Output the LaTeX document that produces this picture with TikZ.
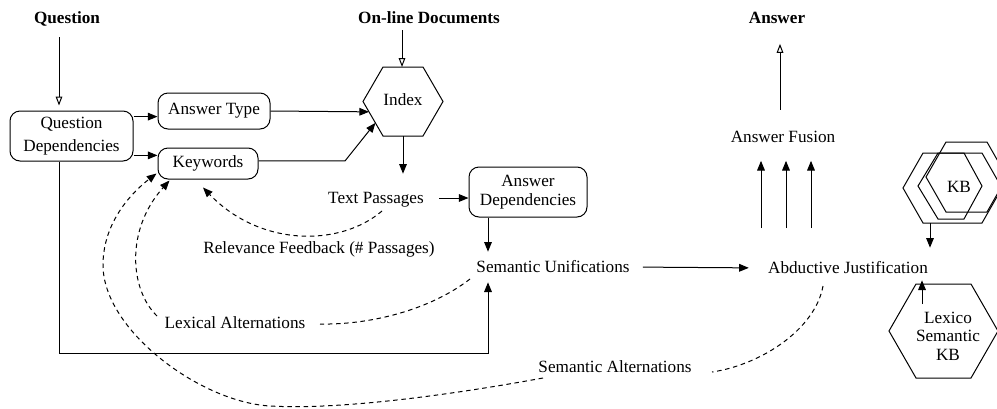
\documentclass[tikz,border=0pt]{standalone}
\usepackage{fontspec}
\setmainfont{Liberation Serif}
\usetikzlibrary{arrows.meta,calc}
\begin{document}
\begin{tikzpicture}[x=0.6pt,y=-0.6pt,
  every node/.style={font=\fontsize{10.3}{11}\selectfont},
  lbl/.style={inner sep=0pt,text height=7.5pt,text depth=1.5pt},
  title/.style={lbl,font=\fontsize{10.3}{11}\selectfont\bfseries},
  ln/.style={line width=0.6pt},
  rbox/.style={ln,draw,rounded corners=6pt,inner sep=0pt,align=center},
  arr/.style={ln,-{Triangle[length=5.8pt,width=4.6pt]}},
  oarr/.style={ln,-{Triangle[open,length=5.4pt,width=4pt]}},
  dsh/.style={ln,dash pattern=on 2.7pt off 2.2pt},
  hex/.style={ln,line join=miter}
]
\useasboundingbox (0,0) rectangle (997,408);

% titles
\node[title] (Q) at (67,18) {Question};
\node[title] (OD) at (429,18) {On-line Documents};
\node[title] (Ans) at (777,18) {Answer};

% boxes
\node[rbox,minimum width=73.8pt,minimum height=30pt] (QD) at (71.5,136) {Question\\[3pt]Dependencies};
\node[rbox,minimum width=67.2pt,minimum height=21.6pt] (AT) at (214,111) {Answer Type};
\node[rbox,minimum width=60pt,minimum height=18.6pt] (KW) at (208,163.5) {\raisebox{-2.5pt}{Keywords}};
\node[rbox,minimum width=70.8pt,minimum height=30pt] (AD) at (528,192) {Answer\\Dependencies};

% Index hexagon
\coordinate (ixL) at (363,101.5);
\coordinate (ixTL) at (383,67);
\coordinate (ixTR) at (423,67);
\coordinate (ixR) at (443,101.5);
\coordinate (ixBR) at (423,136);
\coordinate (ixBL) at (383,136);
\draw[hex] (ixL) -- (ixTL) -- (ixTR) -- (ixR) -- (ixBR) -- (ixBL) -- cycle;
\node[lbl] (IX) at (403,100) {Index};
\coordinate (ixB) at ($(ixBL)!0.5!(ixBR)$);
\coordinate (ixE1) at ($(ixL)!0.3!(ixBL)$);
\coordinate (ixE2) at ($(ixL)!0.62!(ixBL)$);

% KB stack
\draw[hex] (926,177) -- (946,142) -- (987,142) -- (1007,177) -- (987,212) -- (946,212) -- cycle;
\draw[hex] (903,188) -- (923,153) -- (982,153) -- (1002,188) -- (982,223) -- (923,223) -- cycle;
\draw[hex] (918,186) -- (938,153) -- (964,153) -- (982,186) -- (964,219) -- (938,219) -- cycle;
\node[lbl] (KB) at (959,187) {KB};

% Lexico semantic KB hexagon
\draw[hex] (889,331) -- (916,284) -- (971,284) -- (998,331) -- (971,378) -- (916,378) -- cycle;
\node[inner sep=0pt,align=center] (LX) at (948,336) {Lexico\\Semantic\\KB};

% plain labels
\node[lbl] (TP) at (376,198) {Text Passages};
\node[lbl] (RF) at (319,248) {Relevance Feedback (\# Passages)};
\node[lbl] (SU) at (553,267) {Semantic Unifications};
\node[lbl] (AJ) at (848,268) {Abductive Justification};
\node[lbl] (AF) at (783,137) {Answer Fusion};
\node[lbl] (LA) at (235,323) {Lexical Alternations};
\node[lbl] (SA) at (615,367) {Semantic Alternations};

% helper coordinates
\coordinate (qa) at (59,37);
\coordinate (oda) at (402,30);
\coordinate (qd1) at ($(QD.north east)!0.12!(QD.south east)$);
\coordinate (qd2) at ($(QD.north east)!0.88!(QD.south east)$);
\coordinate (kw1) at ($(KW.north east)!0.42!(KW.south east)$);
\coordinate (kwb) at (345,0);
\coordinate (adx) at (488,0);
\coordinate (lp) at (59,353);
\coordinate (f1) at (761,228);
\coordinate (f2) at (786,228);
\coordinate (f3) at (811,228);
\coordinate (ansx) at (780,0);
\coordinate (kbb) at (930,223);
\coordinate (lxa) at (922,304);

% solid connectors
\draw[oarr,shorten >=3pt] (qa) -- (qa |- QD.north);
\draw[oarr] (oda) -- (oda |- ixTL);
\draw[arr] (qd1) -- (qd1 -| AT.west);
\draw[arr] (qd2) -- (qd2 -| KW.west);
\draw[arr] (AT.east) -- (ixE1);
\draw[arr] (kw1) -- (kw1 -| kwb) -- (ixE2);
\draw[arr,shorten >=9.9pt] (ixB) -- (ixB |- TP.north);
\draw[arr,shorten <=9pt] (TP.east) -- (TP.east -| AD.west);
\draw[arr,shorten >=4.5pt] (AD.south -| adx) -- (adx |- SU.north);
\draw[arr,shorten >=4.5pt] (QD.south -| lp) -- (lp) -| (adx |- SU.south);
\draw[arr,shorten <=7.8pt,shorten >=11.4pt] (SU.east) -- (AJ.west);
\draw[arr,shorten >=9.6pt] (f1) -- (f1 |- AF.south);
\draw[arr,shorten >=9.6pt] (f2) -- (f2 |- AF.south);
\draw[arr,shorten >=9.6pt] (f3) -- (f3 |- AF.south);
\draw[oarr,shorten <=11.7pt,shorten >=10.8pt] (AF.north -| ansx) -- (ansx |- Ans.south);
\draw[arr,shorten >=7.5pt] (kbb) -- (kbb |- AJ.north);
\draw[arr,shorten >=2.7pt] (lxa) -- (lxa |- AJ.south);

% dashed feedback connectors
\coordinate (rf0) at (382,211);
\coordinate (rf1) at ($(KW.south)+(-5,8)$);
\draw[dsh,arr] (rf0) .. controls (340,247) and (260,247) .. (rf1);

\coordinate (la0) at (470,279);
\coordinate (la1) at (320,324);
\coordinate (la2) at (157,316);
\coordinate (la3) at ($(KW.south west)+(12,1)$);
\draw[dsh] (la0) .. controls (430,310) and (370,325) .. (la1);
\draw[dsh,arr] (la2) .. controls (130,290) and (125,230) .. (la3);

\coordinate (sa0) at (823,286);
\coordinate (sa1) at (712,372);
\coordinate (sa2) at (543,378);
\coordinate (sa3) at (270,406);
\coordinate (sa4) at (103,265);
\coordinate (sa5) at ($(KW.south west)+(-1,-6)$);
\draw[dsh] (sa0) .. controls (815,330) and (760,365) .. (sa1);
\draw[dsh,arr] (sa2) .. controls (450,395) and (340,410) .. (sa3)
  .. controls (200,402) and (103,330) .. (sa4)
  .. controls (103,220) and (135,190) .. (sa5);
\end{tikzpicture}
\end{document}
